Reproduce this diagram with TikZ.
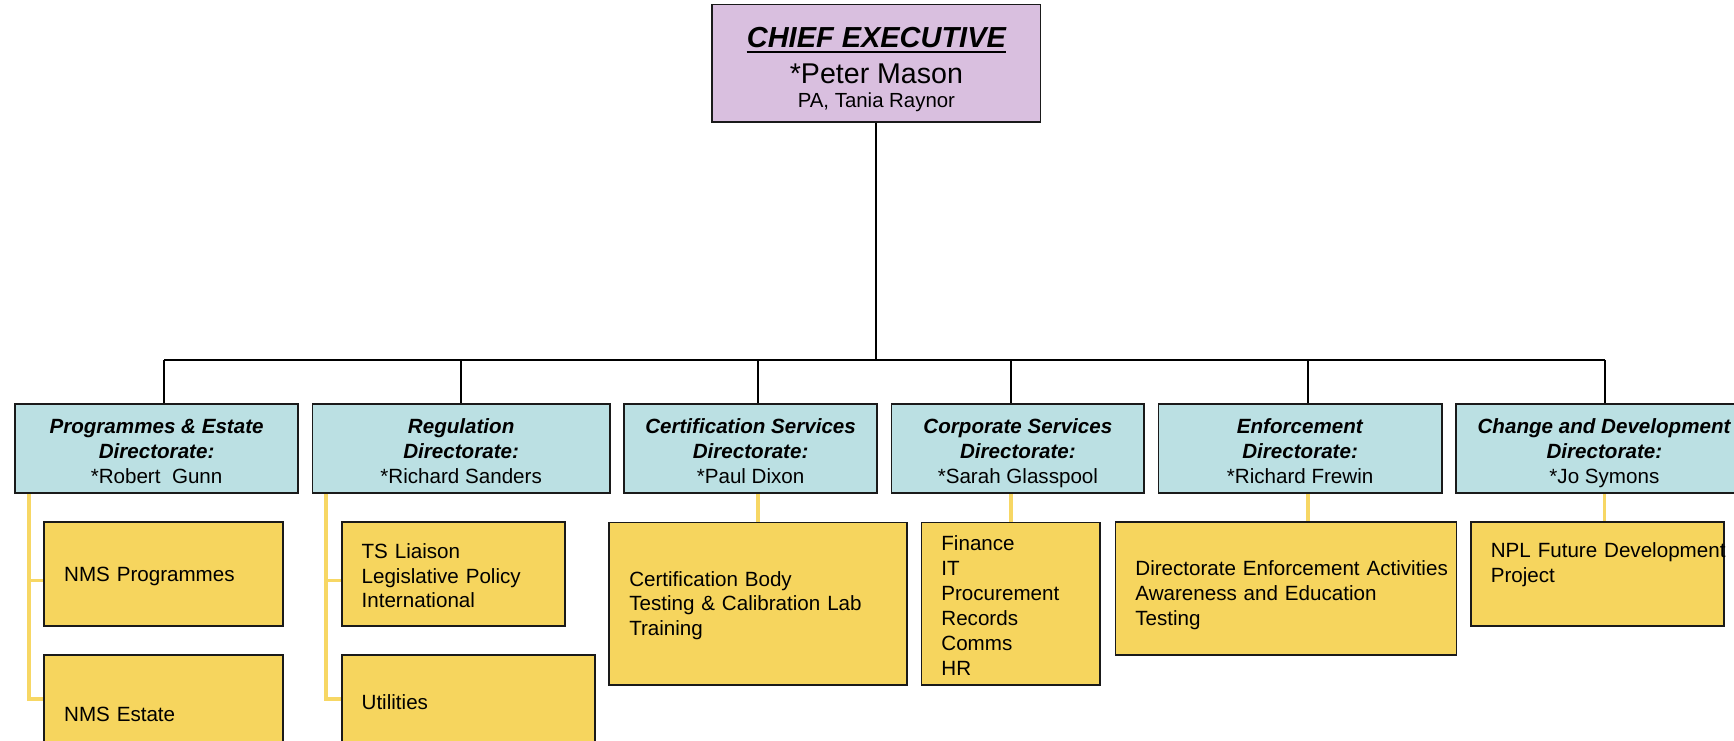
\documentclass[tikz,border=0pt]{standalone}
\usepackage{fontspec}
\setmainfont{Liberation Sans}
\usepackage{xcolor}
\definecolor{ceofill}{HTML}{D9BFDF}
\definecolor{dirfill}{HTML}{BBE0E3}
\definecolor{unitfill}{HTML}{F6D55E}
\definecolor{unitline}{HTML}{F7D764}
\definecolor{edgec}{HTML}{1A1A1A}
\newcommand{\dirtext}[2]{\rule{0pt}{14.3pt}\textbf{\textit{#1}}\\\textbf{\textit{Directorate:}}\\{*}#2\strut}
\tikzset{
  ceo/.style={draw=edgec, line width=0.9pt, fill=ceofill, minimum width=5.94cm, minimum height=2.12cm},
  cetext/.style={anchor=base, inner sep=0pt},
  dirbox/.style={draw=edgec, line width=0.9pt, fill=dirfill, minimum height=1.62cm, inner sep=0pt, align=center, font=\fontsize{10.6}{12.8}\selectfont},
  unitbox/.style={draw=edgec, line width=0.9pt, fill=unitfill, inner xsep=0.36cm, inner ysep=0pt, align=left, font=\fontsize{10.6}{12.8}\selectfont,
    execute at begin node=\rule{0pt}{9.5pt}},
  link/.style={draw=black, line width=1pt},
  sublink/.style={draw=unitline, line width=1.8pt},
}
\begin{document}
\begin{tikzpicture}[x=0.02cm, y=-0.02cm]
\useasboundingbox (0,0) rectangle (1568,670);
% chief executive
\node[ceo] (ce) at (792.5,57) {};
\node[cetext, font=\fontsize{14.9}{18}\selectfont\bfseries\itshape] (cetitle) at (792.5,42.8) {CHIEF EXECUTIVE};
\draw[line width=1.1pt] ([yshift=-2.3pt]cetitle.base west) -- ([yshift=-2.3pt]cetitle.base east);
\node[cetext, font=\fontsize{14.7}{18}\selectfont] (cename) at (792.5,75.4) {*Peter Mason};
\node[cetext, font=\fontsize{10.5}{13}\selectfont] (cepa) at (792.5,97.5) {PA, Tania Raynor};

% directorates
\node[dirbox, minimum width=5.12cm] (d1) at (141.6,405.5) {\dirtext{Programmes \& Estate}{Robert\ \ Gunn}};
\node[dirbox, minimum width=5.38cm] (d2) at (417,405.5) {\dirtext{Regulation}{Richard Sanders}};
\node[dirbox, minimum width=4.57cm] (d3) at (678.75,405.5) {\dirtext{Certification Services}{Paul Dixon}};
\node[dirbox, minimum width=4.57cm] (d4) at (920.45,405.5) {\dirtext{Corporate Services}{Sarah Glasspool}};
\node[dirbox, minimum width=5.12cm] (d5) at (1175.65,405.5) {\dirtext{Enforcement}{Richard Frewin}};
\node[dirbox, minimum width=5.37cm] (d6) at (1450.8,405.5) {\dirtext{Change and Development}{Jo Symons}};

% bus
\coordinate (hub) at (792.5,325.5);
\draw[link] (ce.south) -- (hub);
\foreach \x [count=\i] in {148.6,417,685.4,914.2,1182.7,1451.1}
  \coordinate (j\i) at (\x,325.5);
\draw[link] (j1) -- (j6);
\foreach \i in {1,...,6}
  \draw[link] (j\i) -- (j\i |- d\i.north);

% units
\node[unitbox, text width=3.60cm, minimum height=1.88cm] (a1) at (148,519) {NMS Programmes};
\node[unitbox, text width=3.60cm, minimum height=2.08cm] (a2) at (148,644) {NMS Estate};
\node[unitbox, text width=3.32cm, minimum height=1.88cm] (b1) at (410,519) {TS Liaison\\Legislative Policy\\International};
\node[unitbox, text width=3.86cm, minimum height=1.64cm] (b2) at (423.5,633) {Utilities};
\node[unitbox, text width=4.66cm, minimum height=2.94cm] (c1) at (685.5,546) {Certification Body\\\mbox{Testing \& Calibration Lab}\\Training};
\node[unitbox, text width=2.51cm, minimum height=2.94cm] (e1) at (914,546) {Finance\\IT\\Procurement\\Records\\Comms\\HR};
\node[unitbox, text width=5.45cm, minimum height=2.40cm] (f1) at (1162.9,532.2) {\rule{0pt}{14.5pt}\mbox{Directorate Enforcement Activities}\\Awareness and Education\\Testing};
\node[unitbox, text width=3.86cm, minimum height=1.87cm] (g1) at (1444.6,519) {\mbox{NPL Future Development}\\Project\rule[-13.5pt]{0pt}{13.5pt}};

% unit links
\coordinate (t1) at ([xshift=0.27cm]d1.south west);
\coordinate (t2) at ([xshift=0.264cm]d2.south west);
\draw[sublink] (t1) |- (a2.west |- 0,632);
\draw[sublink] (t1 |- 0,525) -- (a1.west |- 0,525);
\draw[sublink] (t2) |- (b2.west |- 0,632);
\draw[sublink] (t2 |- 0,525) -- (b1.west |- 0,525);
\draw[sublink] (j3 |- d3.south) -- (j3 |- c1.north);
\draw[sublink] (j4 |- d4.south) -- (j4 |- e1.north);
\draw[sublink] (j5 |- d5.south) -- (j5 |- f1.north);
\draw[sublink] (j6 |- d6.south) -- (j6 |- g1.north);
\end{tikzpicture}
\end{document}
